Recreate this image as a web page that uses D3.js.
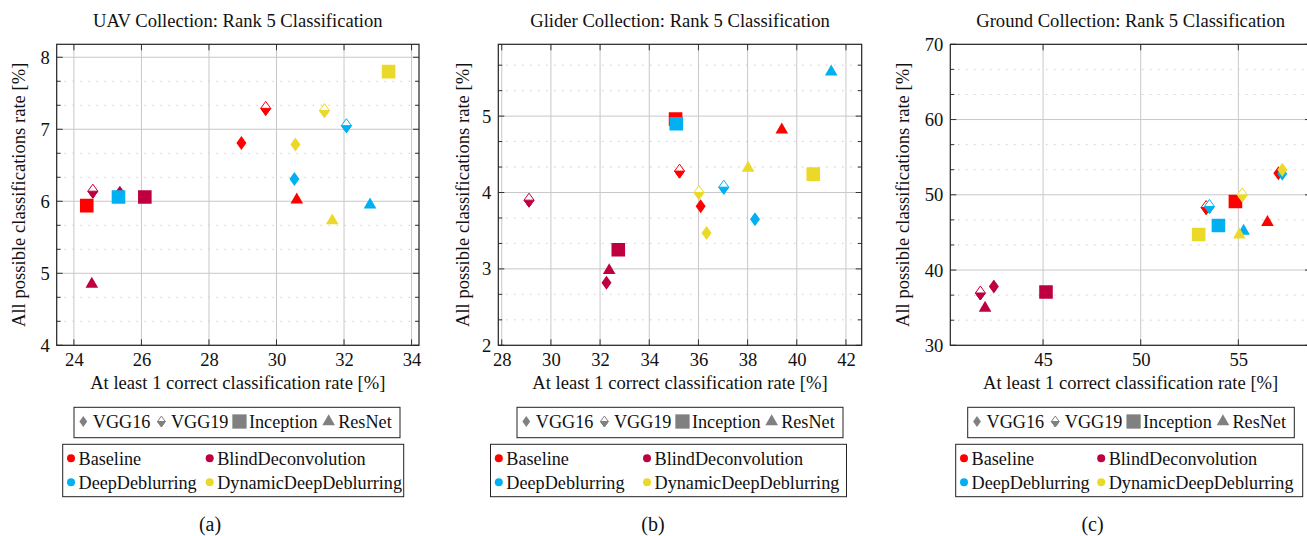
<!DOCTYPE html>
<html><head><meta charset="utf-8">
<script src="https://cdn.jsdelivr.net/npm/d3@7"></script>
<style>
html,body{margin:0;padding:0;background:#fff;}
text{font-family:"Liberation Serif","Times New Roman",serif;fill:#111;}
</style></head>
<body><svg id="chart" width="1307" height="536"></svg>
<script>
// ---------- data ----------
const methods = ["Baseline", "BlindDeconvolution", "DeepDeblurring", "DynamicDeepDeblurring"];
const models = ["VGG16", "VGG19", "Inception", "ResNet"];
const methodColors = ["#ff0000", "#bf0040", "#00b0f0", "#ebd92a"];

// rows: methods, columns: models (VGG16, VGG19, Inception, ResNet)
const uavX = [[28.96, 29.68, 24.38, 30.60], [25.36, 24.56, 26.10, 24.53], [30.53, 32.07, 25.32, 32.77], [30.56, 31.42, 33.32, 31.65]];
const uavY = [[6.81, 7.29, 5.94, 6.02], [6.12, 6.14, 6.06, 4.85], [6.31, 7.05, 6.06, 5.95], [6.79, 7.26, 7.80, 5.73]];
const gliderX = [[36.09, 35.23, 35.07, 39.39], [32.26, 29.11, 32.74, 32.37], [38.30, 37.03, 35.10, 41.40], [36.33, 36.02, 40.67, 38.02]];
const gliderY = [[3.82, 4.28, 4.96, 4.82], [2.82, 3.90, 3.25, 2.98], [3.65, 4.07, 4.90, 5.58], [3.47, 4.00, 4.24, 4.32]];
const groundX = [[57.05, 53.35, 54.85, 56.49], [42.48, 41.79, 45.15, 42.03], [57.25, 53.52, 53.98, 55.27], [57.25, 55.20, 52.97, 55.05]];
const groundY = [[52.88, 48.31, 49.11, 46.33], [37.83, 36.95, 37.08, 34.95], [52.79, 48.45, 45.93, 45.18], [53.32, 50.00, 44.73, 44.69]];

const uavXTicks = [24, 26, 28, 30, 32, 34];
const uavYTicks = [4, 5, 6, 7, 8];
const gliderXTicks = [28, 30, 32, 34, 36, 38, 40, 42];
const gliderYTicks = [2, 3, 4, 5];
const groundXTicks = [45, 50, 55];
const groundYTicks = [30, 40, 50, 60, 70];

const titles = ["UAV Collection: Rank 5 Classification", "Glider Collection: Rank 5 Classification", "Ground Collection: Rank 5 Classification"];
const captions = ["(a)", "(b)", "(c)"];
const xLabel = "At least 1 correct classification rate [%]";
const yLabel = "All possible classifications rate [%]";

// ---------- layout ----------
const panels = [
  {xs: uavX, ys: uavY, xt: uavXTicks, yt: uavYTicks, xd: [23.49, 34.22], yd: [4, 8.18], L: 56.7, R: 419, yLabX: 18.5, leg1L: 74, leg1R: 400, leg2L: 62.7, leg2C2: 147, leg2R: 403.7, capX: 210},
  {xs: gliderX, ys: gliderY, xt: gliderXTicks, yt: gliderYTicks, xd: [27.86, 42.64], yd: [2, 5.94], L: 498.3, R: 861.7, yLabX: 463.3, leg1L: 517, leg1R: 843, leg2L: 490.5, leg2C2: 156.5, leg2R: 846.5, capX: 653},
  {xs: groundX, ys: groundY, xt: groundXTicks, yt: groundYTicks, xd: [40.25, 58.72], yd: [30, 70], L: 950.3, R: 1311, yLabX: 903.3, leg1L: 967.7, leg1R: 1294.3, leg2L: 955.7, leg2C2: 145.5, leg2R: 1302.7, capX: 1092.5}
];
const TOP = 44.3, BOT = 345.3;
const svg = d3.select("#chart");
const FS = 18.6;
const LFS = 18.2;

function markerPath(model, s) {
  if (model === 0 || model === 1) {
    const w = 5 * s, h = 7 * s;
    return `M0,${-h}L${w},0L0,${h}L${-w},0Z`;
  }
  if (model === 2) { const a = 6.8 * s; return `M${-a},${-a}H${a}V${a}H${-a}Z`; }
  const r = 7.3 * s;
  return `M0,${-r}L${0.866 * r},${0.5 * r}L${-0.866 * r},${0.5 * r}Z`;
}
function drawMarker(g, model, color, x, y, s) {
  const gg = g.append("g").attr("transform", `translate(${x},${y})`);
  if (model === 1) {
    const w = 5 * s, h = 7 * s;
    gg.append("path").attr("d", `M0,${-h}L${w},0L0,${h}L${-w},0Z`).attr("fill", "#fff").attr("stroke", color).attr("stroke-width", 1);
    gg.append("path").attr("d", `M${-w},0L${w},0L0,${h}Z`).attr("fill", color).attr("stroke", color).attr("stroke-width", 1);
  } else {
    gg.append("path").attr("d", markerPath(model, s)).attr("fill", color);
  }
}

panels.forEach((p, pi) => {
  const g = svg.append("g");
  const x = d3.scaleLinear().domain(p.xd).range([p.L, p.R]);
  const y = d3.scaleLinear().domain(p.yd).range([BOT, TOP]);
  const clipId = "clip" + pi;
  svg.append("clipPath").attr("id", clipId).append("rect")
    .attr("x", p.L).attr("y", TOP).attr("width", p.R - p.L).attr("height", BOT - TOP);

  const minors = [];
  for (let i = 0; i < p.yt.length; i++) {
    const a = p.yt[i], step = p.yt[1] - p.yt[0];
    [1 / 3, 2 / 3].forEach(f => { const v = a + f * step; if (v < p.yd[1]) minors.push(v); });
  }
  const grid = g.append("g").attr("clip-path", `url(#${clipId})`);
  grid.selectAll(".mg").data(minors).join("line")
    .attr("x1", p.L).attr("x2", p.R).attr("y1", d => y(d)).attr("y2", d => y(d))
    .attr("stroke", "#b0b0b0").attr("stroke-width", 1).attr("stroke-dasharray", "1,7");
  grid.selectAll(".gy").data(p.yt).join("line")
    .attr("x1", p.L).attr("x2", p.R).attr("y1", d => y(d)).attr("y2", d => y(d))
    .attr("stroke", "#c8c8c8").attr("stroke-width", 1);
  grid.selectAll(".gx").data(p.xt).join("line")
    .attr("y1", TOP).attr("y2", BOT).attr("x1", d => x(d)).attr("x2", d => x(d))
    .attr("stroke", "#c8c8c8").attr("stroke-width", 1);

  const xAxis = d3.axisBottom(x).tickValues(p.xt).tickSize(0).tickPadding(7).tickFormat(d3.format("d"));
  const gx = g.append("g").attr("transform", `translate(0,${BOT})`).call(xAxis);
  gx.attr("font-family", null).attr("font-size", null);
  gx.select(".domain").remove();
  gx.selectAll("text").attr("font-size", FS).attr("fill", "#111");
  const yAxis = d3.axisLeft(y).tickValues(p.yt).tickSize(0).tickPadding(7).tickFormat(d3.format("d"));
  const gy = g.append("g").attr("transform", `translate(${p.L},0)`).call(yAxis);
  gy.attr("font-family", null).attr("font-size", null);
  gy.select(".domain").remove();
  gy.selectAll("text").attr("font-size", FS).attr("fill", "#111");

  const tk = g.append("g").attr("stroke", "#333").attr("stroke-width", 1);
  p.xt.forEach(v => {
    tk.append("line").attr("x1", x(v)).attr("x2", x(v)).attr("y1", BOT).attr("y2", BOT - 6);
    tk.append("line").attr("x1", x(v)).attr("x2", x(v)).attr("y1", TOP).attr("y2", TOP + 6);
  });
  p.yt.forEach(v => {
    tk.append("line").attr("x1", p.L).attr("x2", p.L + 6).attr("y1", y(v)).attr("y2", y(v));
    tk.append("line").attr("x1", p.R).attr("x2", p.R - 6).attr("y1", y(v)).attr("y2", y(v));
  });
  minors.forEach(v => {
    tk.append("line").attr("x1", p.L).attr("x2", p.L + 4).attr("y1", y(v)).attr("y2", y(v));
    tk.append("line").attr("x1", p.R).attr("x2", p.R - 4).attr("y1", y(v)).attr("y2", y(v));
  });

  const mk = g.append("g").attr("clip-path", `url(#${clipId})`);
  methods.forEach((m, mi) => {
    models.forEach((md, k) => {
      drawMarker(mk, k, methodColors[mi], x(p.xs[mi][k]), y(p.ys[mi][k]), 1);
    });
  });

  g.append("rect").attr("x", p.L).attr("y", TOP).attr("width", p.R - p.L).attr("height", BOT - TOP)
    .attr("fill", "none").attr("stroke", "#222").attr("stroke-width", 1.2);

  const cx = (p.L + p.R) / 2;
  g.append("text").attr("x", cx).attr("y", 27).attr("text-anchor", "middle").attr("font-size", FS).text(titles[pi]);
  g.append("text").attr("x", cx).attr("y", 389).attr("text-anchor", "middle").attr("font-size", FS).text(xLabel);
  g.append("text").attr("transform", `translate(${p.yLabX + 6},${(TOP + BOT) / 2}) rotate(-90)`)
    .attr("text-anchor", "middle").attr("font-size", FS).text(yLabel);

  // legend 1 (models)
  const l1 = g.append("g");
  l1.append("rect").attr("x", p.leg1L).attr("y", 407.3).attr("width", p.leg1R - p.leg1L).attr("height", 30.4)
    .attr("fill", "#fff").attr("stroke", "#222").attr("stroke-width", 1);
  const texts = models.map(md => l1.append("text").attr("y", 427.6).attr("font-size", LFS).text(md));
  const widths = texts.map(t => t.node().getComputedTextLength());
  const inner = (p.leg1R - p.leg1L) - 9.3 - 8.3;
  const gap = (inner - d3.sum(widths) - 4 * 9.5 - 3 * 10.5) / 3 + 10.5;
  let lx = p.leg1L + 9.3;
  models.forEach((md, k) => {
    drawMarker(l1, k, "#808080", lx, 421.5, k === 2 ? 1.05 : (k === 3 ? 1.0 : 0.78));
    texts[k].attr("x", lx + 9.5);
    lx = lx + 9.5 + widths[k] + gap;
  });

  // legend 2 (methods)
  const l2 = g.append("g");
  l2.append("rect").attr("x", p.leg2L).attr("y", 444.3).attr("width", p.leg2R - p.leg2L).attr("height", 52.4)
    .attr("fill", "#fff").attr("stroke", "#222").attr("stroke-width", 1);
  const rowsY = [458.3, 482.3];
  const cols = [p.leg2L + 8.3, p.leg2L + p.leg2C2];
  [[0, 1], [2, 3]].forEach((row, r) => {
    row.forEach((mi, c) => {
      l2.append("circle").attr("cx", cols[c]).attr("cy", rowsY[r]).attr("r", 4).attr("fill", methodColors[mi]);
      l2.append("text").attr("x", cols[c] + 7.5).attr("y", rowsY[r] + 6.2).attr("font-size", LFS).text(methods[mi]);
    });
  });

  g.append("text").attr("x", p.capX).attr("y", 531).attr("text-anchor", "middle").attr("font-size", 20).text(captions[pi]);
});
</script></body></html>
